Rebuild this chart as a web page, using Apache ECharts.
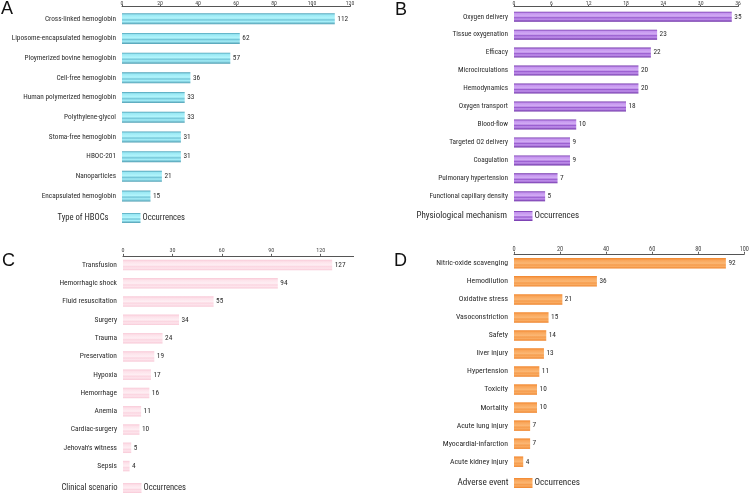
<!DOCTYPE html>
<html><head><meta charset="utf-8">
<script src="https://cdn.jsdelivr.net/npm/echarts@6/dist/echarts.min.js"></script>
<style>html,body{margin:0;padding:0;background:#fff}#c{width:752px;height:495px}</style>
</head><body><div id="c"></div>
<script>
var catsA = ['Cross-linked hemoglobin','Liposome-encapsulated hemoglobin','Ploymerized bovine hemoglobin','Cell-free hemoglobin','Human polymerized hemoglobin','Polythylene-glycol','Stoma-free hemoglobin','HBOC-201','Nanoparticles','Encapsulated hemoglobin'];
var valsA = [112,62,57,36,33,33,31,31,21,15];
var ticksA = [0,20,40,60,80,100,120];
var catsB = ['Oxygen delivery','Tissue oxygenation','Efficacy','Microcirculations','Hemodynamics','Oxygen transport','Blood-flow','Targeted O2 delivery','Coagulation','Pulmonary hypertension','Functional capillary density'];
var valsB = [35,23,22,20,20,18,10,9,9,7,5];
var ticksB = [0,6,12,18,24,30,36];
var catsC = ['Transfusion','Hemorrhagic shock','Fluid resuscitation','Surgery','Trauma','Preservation','Hypoxia','Hemorrhage','Anemia','Cardiac-surgery',"Jehovah's witness",'Sepsis'];
var valsC = [127,94,55,34,24,19,17,16,11,10,5,4];
var ticksC = [0,30,60,90,120];
var catsD = ['Nitric-oxide scavenging','Hemodilution','Oxidative stress','Vasoconstriction','Safety','liver injury','Hypertension','Toxicity','Mortality','Acute lung injury','Myocardial-infarction','Acute kidney injury'];
var valsD = [92,36,21,15,14,13,11,10,10,7,7,4];
var ticksD = [0,20,40,60,80,100];
var axisTitles = ['Type of HBOCs','Physiological mechanism','Clinical scenario','Adverse event'];
var legendName = 'Occurrences';
var panelLetters = ['A','B','C','D'];

var FONT = "'Roboto Condensed','DejaVu Sans Condensed',sans-serif";

function grad(stops){
  return new echarts.graphic.LinearGradient(0,0,0,1, stops.map(function(s){return {offset:s[0], color:s[1]};}));
}
var colA = grad([[0,'#4c9fb5'],[0.15,'#9ae8f4'],[0.45,'#b2f5fc'],[0.6,'#74c6d8'],[0.75,'#a6eff9'],[1,'#4f9db2']]);
var colB = grad([[0,'#6e2fa8'],[0.15,'#c493ee'],[0.45,'#d3adf5'],[0.6,'#9a5ed0'],[0.75,'#c596ef'],[1,'#6c2ea6']]);
var colC = grad([[0,'#f9cad8'],[0.2,'#fde2ea'],[0.5,'#feeef3'],[0.65,'#fbd6e1'],[0.8,'#fde4ec'],[1,'#f8c8d6']]);
var colD = grad([[0,'#f2862c'],[0.2,'#f9a559'],[0.5,'#fbb774'],[0.65,'#f69d4e'],[0.8,'#f9ab62'],[1,'#ef832a']]);

var panels = [
  {cats:catsA, vals:valsA, ticks:ticksA, max:120, interval:20, left:122, width:228, top:8.9, height:197, offset:2.2, bw:11, col:colA, catFont:7.3, tickFont:5.8, tickMargin:0.5, legTop:213, legLeft:122, titleRight:108.5, titleY:219, titleFont:8.6, legFont:8.6},
  {cats:catsB, vals:valsB, ticks:ticksB, max:36, interval:6, left:514, width:224, top:7.7, height:197.6, offset:1, bw:10, col:colB, catFont:7.3, tickFont:5.8, tickMargin:0.5, legTop:211, legLeft:514, titleRight:507, titleY:216.5, titleFont:9, legFont:9},
  {cats:catsC, vals:valsC, ticks:ticksC, max:140, interval:30, left:123, width:230.6, top:255.9, height:219.3, offset:0, bw:10.5, col:colC, catFont:7.5, tickFont:6, tickMargin:2, legTop:483, legLeft:123, titleRight:117.5, titleY:489, titleFont:8.6, legFont:8.6},
  {cats:catsD, vals:valsD, ticks:ticksD, max:100, interval:20, left:514, width:230.3, top:254.3, height:216.4, offset:0.5, bw:10.5, col:colD, catFont:7.8, tickFont:6.3, tickMargin:1.3, legTop:478, legLeft:514, titleRight:508.5, titleY:484, titleFont:9.2, legFont:9.2}
];
var letterPos = [[1,9],[395,9.7],[2,261],[394,261.4]];

var grid=[], xAxis=[], yAxis=[], series=[], legend=[], graphic=[];
panels.forEach(function(p,i){
  grid.push({left:p.left, top:p.top, width:p.width, height:p.height, containLabel:false, outerBoundsMode:'none'});
  xAxis.push({type:'value', gridIndex:i, position:'top', min:0, max:p.max, interval:p.interval, offset:p.offset,
    splitLine:{show:false},
    axisLine:{show:true, lineStyle:{color:'#555', width:1}},
    axisTick:{show:true, length:2, lineStyle:{color:'#555'}, customValues:p.ticks},
    axisLabel:{show:true, fontSize:p.tickFont, color:'#444', margin:p.tickMargin, fontFamily:FONT, customValues:p.ticks}
  });
  yAxis.push({type:'category', gridIndex:i, data:p.cats, inverse:true,
    axisLine:{show:false}, axisTick:{show:false},
    axisLabel:{fontSize:p.catFont, color:'#2b2b2b', margin:6, fontFamily:FONT}
  });
  series.push({type:'bar', name:panelLetters[i], xAxisIndex:i, yAxisIndex:i, data:p.vals, barWidth:p.bw,
    itemStyle:{color:p.col},
    label:{show:true, position:'right', distance:2.5, fontSize:7.3, color:'#2b2b2b', fontFamily:FONT},
    emphasis:{disabled:true}, animation:false
  });
  legend.push({data:[panelLetters[i]], left:p.legLeft, top:p.legTop, padding:0, itemWidth:18.5, itemHeight:10, icon:'rect',
    formatter:function(){return legendName;}, selectedMode:false,
    textStyle:{fontSize:p.legFont, color:'#2b2b2b', fontFamily:FONT, padding:[0,0,0,-3]}
  });
  graphic.push({type:'text', right:752-p.titleRight, top:p.titleY - p.titleFont*0.6,
    style:{text:axisTitles[i], fill:'#2b2b2b', font:p.titleFont+'px '+FONT}});
  graphic.push({type:'text', x:letterPos[i][0], y:letterPos[i][1],
    style:{text:panelLetters[i], fill:'#111', font:"18px 'Liberation Sans',Arial,sans-serif", verticalAlign:'middle'}});
});

var chart = echarts.init(document.getElementById('c'), null, {renderer:'canvas'});
chart.setOption({animation:false, backgroundColor:'#fff', grid:grid, xAxis:xAxis, yAxis:yAxis, series:series, legend:legend, graphic:graphic});
</script>
</body></html>
